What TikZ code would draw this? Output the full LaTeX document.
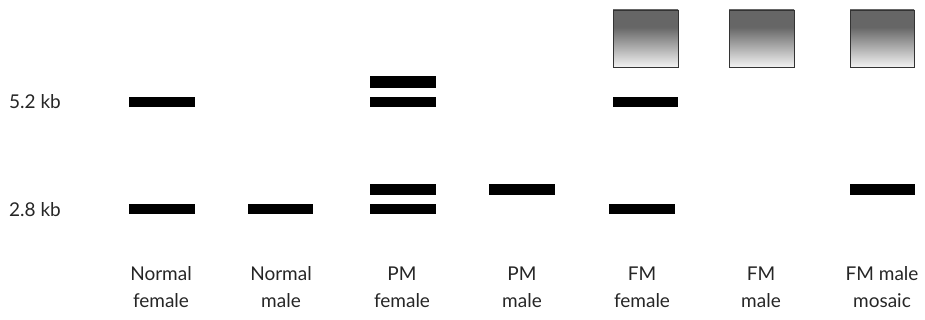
\documentclass[tikz,border=0pt]{standalone}
\usepackage{fontspec}
\setmainfont{Lato}
\definecolor{sqdark}{gray}{0.40}
\definecolor{sqlight}{gray}{0.95}
\definecolor{sqedge}{gray}{0.2}
\pgfdeclareverticalshading{sqshade}{100bp}{color(0bp)=(sqlight); color(25bp)=(sqlight); color(60bp)=(sqdark); color(100bp)=(sqdark)}
\begin{document}
\begin{tikzpicture}[x=1pt,y=-1pt,
  band/.style={fill=black,draw=none},
  sq/.style={shading=sqshade,draw=sqedge,line width=0.8pt},
  lbl/.style={font=\fontsize{19}{27}\selectfont,align=center,text=black!85,inner sep=0pt},
  kb/.style={font=\fontsize{19}{27}\selectfont,anchor=west,text=black!85,inner sep=0pt}]
\useasboundingbox (0,0) rectangle (925,320);
% size labels
\node[kb] (k52) at (9,102) {5.2 kb};
\node[kb] (k28) at (9,210) {2.8 kb};
% bands
\fill[band] (129,97) rectangle (195,107);
\fill[band] (129,204) rectangle (195,214);
\fill[band] (248,204) rectangle (313,214);
\fill[band] (370,76) rectangle (436,88);
\fill[band] (370,97) rectangle (436,107);
\fill[band] (370,184) rectangle (436,195);
\fill[band] (370,204) rectangle (436,214);
\fill[band] (489,184) rectangle (555,195);
\fill[band] (613,97) rectangle (678,107);
\fill[band] (609,204) rectangle (675,214);
\fill[band] (850,184) rectangle (915,195);
% gradient squares
\shade[sq] (613,10) rectangle (678,67);
\shade[sq] (729,10) rectangle (794,67);
\shade[sq] (850,10) rectangle (914,67);
% lane labels
\node[lbl] (l1) at (161,287) {Normal\\female};
\node[lbl] (l2) at (281,287) {Normal\\male};
\node[lbl] (l3) at (402,287) {PM\\female};
\node[lbl] (l4) at (522,287) {PM\\male};
\node[lbl] (l5) at (642,287) {FM\\female};
\node[lbl] (l6) at (761,287) {FM\\male};
\node[lbl] (l7) at (882,287) {FM male\\mosaic};
\end{tikzpicture}
\end{document}
